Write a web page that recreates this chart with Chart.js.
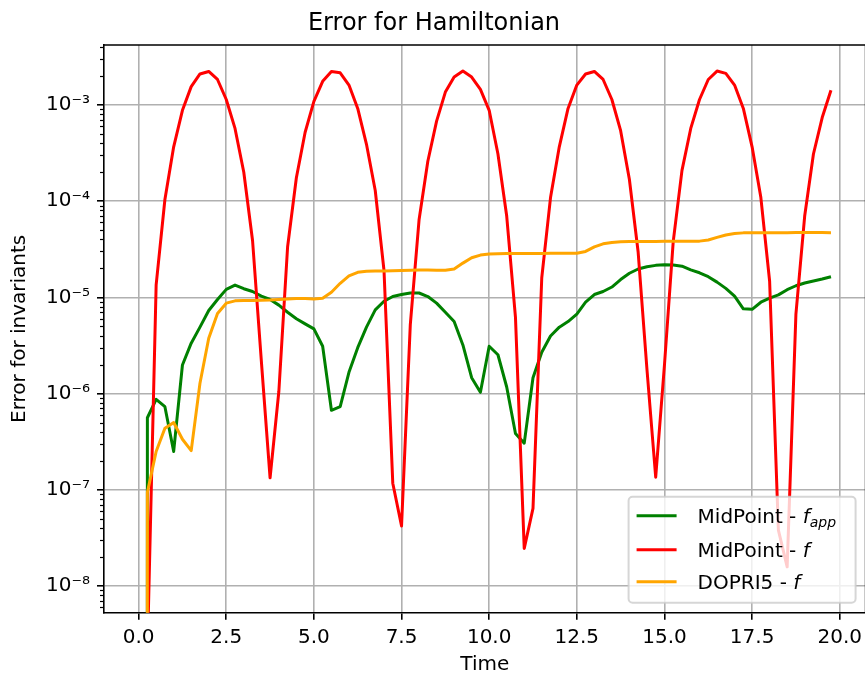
<!DOCTYPE html>
<html>
<head>
<meta charset="utf-8">
<title>Error for Hamiltonian</title>
<script src="https://cdn.jsdelivr.net/npm/chart.js@4.4.1/dist/chart.umd.min.js"></script>
<style>
  html, body { margin: 0; padding: 0; overflow: hidden; background: #fff; }
  #wrap { width: 868px; height: 677px; }
</style>
</head>
<body>
<div id="wrap"><canvas id="errorChart" width="868" height="677"></canvas></div>
<script>
// exact zero at t = 0 can't sit on a log axis; keep it as the tiniest value
const ZERO = 1e-300;

const time = [
  0, 0.25, 0.5, 0.75, 1, 1.25, 1.5, 1.75, 2, 2.25, 2.5, 2.75, 3, 3.25, 3.5, 3.75,
  4, 4.25, 4.5, 4.75, 5, 5.25, 5.5, 5.75, 6, 6.25, 6.5, 6.75, 7, 7.25, 7.5, 7.75,
  8, 8.25, 8.5, 8.75, 9, 9.25, 9.5, 9.75, 10, 10.25, 10.5, 10.75, 11, 11.25, 11.5, 11.75,
  12, 12.25, 12.5, 12.75, 13, 13.25, 13.5, 13.75, 14, 14.25, 14.5, 14.75, 15, 15.25, 15.5, 15.75,
  16, 16.25, 16.5, 16.75, 17, 17.25, 17.5, 17.75, 18, 18.25, 18.5, 18.75, 19, 19.25, 19.5, 19.75
];

const midpointApprox = [
  ZERO, 5.6e-7, 8.7e-7, 7.3e-7, 2.5e-7, 1.98e-6, 3.34e-6, 4.9e-6, 7.3e-6, 9.5e-6,
  1.21e-5, 1.34e-5, 1.23e-5, 1.15e-5, 1.03e-5, 9.5e-6, 8.3e-6, 7.0e-6, 6.0e-6, 5.3e-6,
  4.7e-6, 3.1e-6, 6.7e-7, 7.3e-7, 1.66e-6, 3.0e-6, 4.9e-6, 7.4e-6, 9.1e-6, 1.02e-5,
  1.07e-5, 1.11e-5, 1.11e-5, 1.02e-5, 8.7e-6, 7.0e-6, 5.6e-6, 3.2e-6, 1.46e-6, 1.03e-6,
  3.1e-6, 2.53e-6, 1.17e-6, 3.85e-7, 3.05e-7, 1.46e-6, 2.69e-6, 3.97e-6, 4.9e-6, 5.6e-6,
  6.7e-6, 8.9e-6, 1.07e-5, 1.15e-5, 1.28e-5, 1.53e-5, 1.78e-5, 1.97e-5, 2.08e-5, 2.15e-5,
  2.18e-5, 2.17e-5, 2.11e-5, 1.93e-5, 1.8e-5, 1.64e-5, 1.44e-5, 1.24e-5, 1.03e-5, 7.6e-6,
  7.5e-6, 8.9e-6, 9.8e-6, 1.06e-5, 1.2e-5, 1.32e-5, 1.41e-5, 1.48e-5, 1.55e-5, 1.64e-5
];

const midpointExact = [
  ZERO, 2e-9, 1.35e-5, 1.04e-4, 3.67e-4, 8.8e-4, 1.55e-3, 2.1e-3, 2.23e-3, 1.84e-3,
  1.14e-3, 5.7e-4, 2.0e-4, 3.9e-5, 2.2e-6, 1.33e-7, 1.05e-6, 3.36e-5, 1.75e-4, 5.2e-4,
  1.09e-3, 1.76e-3, 2.23e-3, 2.16e-3, 1.61e-3, 9.2e-4, 3.9e-4, 1.29e-4, 1.9e-5, 1.17e-7,
  4.2e-8, 5.2e-6, 6.4e-5, 2.6e-4, 6.8e-4, 1.36e-3, 1.95e-3, 2.25e-3, 1.95e-3, 1.45e-3,
  8.8e-4, 3.09e-4, 7.0e-5, 6.2e-6, 2.45e-8, 6.4e-8, 1.6e-5, 1.09e-4, 3.67e-4, 9.2e-4,
  1.61e-3, 2.1e-3, 2.23e-3, 1.84e-3, 1.14e-3, 5.4e-4, 1.68e-4, 2.94e-5, 1.8e-6, 1.35e-7,
  1.98e-6, 3.8e-5, 2.09e-4, 5.7e-4, 1.14e-3, 1.84e-3, 2.25e-3, 2.13e-3, 1.61e-3, 9.2e-4,
  3.67e-4, 1.09e-4, 1.47e-5, 3.8e-8, 1.58e-8, 6.7e-6, 7.0e-5, 3.09e-4, 7.4e-4, 1.42e-3
];

const dopri5 = [
  ZERO, 9.4e-8, 2.5e-7, 4.35e-7, 5.0e-7, 3.35e-7, 2.55e-7, 1.28e-6, 3.76e-6, 6.8e-6,
  8.7e-6, 9.2e-6, 9.3e-6, 9.3e-6, 9.35e-6, 9.4e-6, 9.5e-6, 9.6e-6, 9.7e-6, 9.7e-6,
  9.6e-6, 9.8e-6, 1.13e-5, 1.4e-5, 1.67e-5, 1.82e-5, 1.87e-5, 1.88e-5, 1.88e-5, 1.89e-5,
  1.9e-5, 1.91e-5, 1.92e-5, 1.92e-5, 1.91e-5, 1.91e-5, 1.97e-5, 2.27e-5, 2.58e-5, 2.75e-5,
  2.82e-5, 2.84e-5, 2.85e-5, 2.85e-5, 2.86e-5, 2.86e-5, 2.86e-5, 2.87e-5, 2.87e-5, 2.87e-5,
  2.88e-5, 3.0e-5, 3.35e-5, 3.6e-5, 3.72e-5, 3.78e-5, 3.8e-5, 3.8e-5, 3.8e-5, 3.81e-5,
  3.82e-5, 3.82e-5, 3.82e-5, 3.82e-5, 3.84e-5, 3.95e-5, 4.2e-5, 4.45e-5, 4.6e-5, 4.68e-5,
  4.7e-5, 4.7e-5, 4.7e-5, 4.7e-5, 4.7e-5, 4.71e-5, 4.71e-5, 4.71e-5, 4.71e-5, 4.7e-5
];

// legend text: plain part, italic symbol, italic subscript
const legendLabels = [
  ['MidPoint - ', 'f', 'app'],
  ['MidPoint - ', 'f', ''],
  ['DOPRI5 - ', 'f', '']
];
const seriesColors = ['green', 'red', 'orange'];

const xTicks = [0, 2.5, 5, 7.5, 10, 12.5, 15, 17.5, 20];
const xTickLabels = ['0.0', '2.5', '5.0', '7.5', '10.0', '12.5', '15.0', '17.5', '20.0'];
const yTicks = [1e-8, 1e-7, 1e-6, 1e-5, 1e-4, 1e-3];
const yTickLabels = ['10\u207B\u2078', '10\u207B\u2077', '10\u207B\u2076', '10\u207B\u2075', '10\u207B\u2074', '10\u207B\u00B3'];

const xMin = -0.9875, xMax = 20.7375;
const yMin = 5.27e-9, yMax = 4.2e-3;

const FONT = "'DejaVu Sans', sans-serif";
Chart.defaults.font.family = FONT;
Chart.defaults.color = '#000';

const isMajorY = v => yTicks.some(t => Math.abs(t - v) / t < 1e-6);

const toPoints = values => values.map((v, i) => ({ x: time[i], y: v }));

function drawLegend(chart) {
  const { ctx, chartArea: a } = chart;
  const w = 227, h = 106;
  const x0 = a.right - 10 - w, y0 = a.bottom - 10 - h;
  ctx.save();
  ctx.beginPath();
  ctx.roundRect(x0, y0, w, h, 4);
  ctx.fillStyle = 'rgba(255,255,255,0.8)';
  ctx.fill();
  ctx.lineWidth = 2;
  ctx.strokeStyle = 'rgba(204,204,204,0.8)';
  ctx.stroke();

  const rows = [19, 53, 85];
  legendLabels.forEach((parts, i) => {
    const yRow = y0 + rows[i];
    ctx.strokeStyle = seriesColors[i];
    ctx.lineWidth = 3;
    ctx.beginPath();
    ctx.moveTo(x0 + 8, yRow);
    ctx.lineTo(x0 + 48, yRow);
    ctx.stroke();

    ctx.fillStyle = '#000';
    ctx.textBaseline = 'alphabetic';
    let tx = x0 + 69;
    const base = yRow + 7;
    ctx.font = `20px ${FONT}`;
    ctx.fillText(parts[0], tx, base);
    tx += ctx.measureText(parts[0]).width;
    ctx.font = `italic 20px ${FONT}`;
    ctx.fillText(parts[1], tx, base);
    tx += ctx.measureText(parts[1]).width;
    if (parts[2]) {
      ctx.font = `italic 14px ${FONT}`;
      ctx.fillText(parts[2], tx, base + 4);
    }
  });
  ctx.restore();
}

const axesFrame = {
  id: 'axesFrame',
  afterDraw(chart) {
    const { ctx, chartArea: a, scales: { y } } = chart;
    ctx.save();
    ctx.strokeStyle = '#000';
    ctx.lineWidth = 1.6;
    ctx.beginPath();
    ctx.moveTo(a.left, a.top);
    ctx.lineTo(a.right, a.top);
    ctx.lineTo(a.right, a.bottom);
    ctx.stroke();
    // short minor ticks on the log axis
    ctx.lineWidth = 1.2;
    y.ticks.forEach(t => {
      if (isMajorY(t.value)) return;
      const py = Math.round(y.getPixelForValue(t.value)) + 0.5;
      ctx.beginPath();
      ctx.moveTo(a.left - 4, py);
      ctx.lineTo(a.left, py);
      ctx.stroke();
    });
    ctx.restore();
    drawLegend(chart);
  }
};

new Chart(document.getElementById('errorChart'), {
  type: 'line',
  data: {
    datasets: [
      { label: 'MidPoint - f_app', data: toPoints(midpointApprox), borderColor: seriesColors[0], order: 2 },
      { label: 'MidPoint - f', data: toPoints(midpointExact), borderColor: seriesColors[1], order: 1 },
      { label: 'DOPRI5 - f', data: toPoints(dopri5), borderColor: seriesColors[2], order: 0 }
    ]
  },
  options: {
    responsive: false,
    animation: false,
    devicePixelRatio: 1,
    layout: { padding: 0 },
    elements: {
      point: { radius: 0, hoverRadius: 0 },
      line: { borderWidth: 3, tension: 0, fill: false, borderCapStyle: 'butt', borderJoinStyle: 'round' }
    },
    plugins: {
      legend: { display: false },
      tooltip: { enabled: false },
      title: {
        display: true,
        text: 'Error for Hamiltonian',
        color: '#000',
        font: { size: 24, weight: 'normal' },
        padding: { top: 9, bottom: 7.2 }
      }
    },
    scales: {
      x: {
        type: 'linear',
        min: xMin,
        max: xMax,
        afterFit: s => { s.height = 64.3; },
        afterBuildTicks: s => { s.ticks = xTicks.map(v => ({ value: v })); },
        ticks: {
          autoSkip: false,
          maxRotation: 0,
          padding: 6,
          font: { size: 20 },
          callback: (v, i) => xTickLabels[i]
        },
        grid: { color: '#b0b0b0', lineWidth: 1.6, tickColor: '#000', tickLength: 7, tickWidth: 1.6 },
        border: { color: '#000', width: 1.6 },
        title: { display: true, text: 'Time', font: { size: 20 }, padding: { top: 0, bottom: 0 } }
      },
      y: {
        type: 'logarithmic',
        min: yMin,
        max: yMax,
        afterFit: s => { s.width = 104; },
        afterBuildTicks: s => {
          const ticks = [];
          for (let e = -9; e <= -3; e++) {
            for (let m = 1; m <= 9; m++) {
              const v = m * Math.pow(10, e);
              if (v >= yMin && v <= yMax) ticks.push({ value: v });
            }
          }
          s.ticks = ticks;
        },
        ticks: {
          autoSkip: false,
          padding: 7,
          font: { size: 20 },
          callback: v => {
            const i = yTicks.findIndex(t => Math.abs(t - v) / t < 1e-6);
            return i >= 0 ? yTickLabels[i] : '';
          }
        },
        grid: {
          color: c => isMajorY(c.tick.value) ? '#b0b0b0' : 'rgba(0,0,0,0)',
          tickColor: c => isMajorY(c.tick.value) ? '#000' : 'rgba(0,0,0,0)',
          lineWidth: 1.6,
          tickLength: 7,
          tickWidth: 1.6
        },
        border: { color: '#000', width: 1.6 },
        title: { display: true, text: 'Error for invariants', font: { size: 20 }, padding: { top: 8 } }
      }
    }
  },
  plugins: [axesFrame]
});
</script>
</body>
</html>
